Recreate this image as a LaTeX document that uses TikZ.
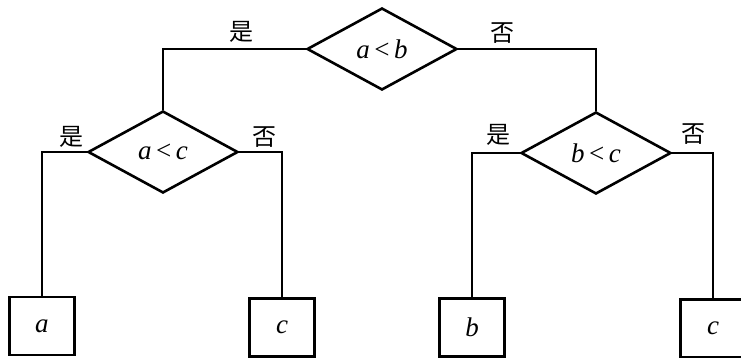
\documentclass[tikz,border=0pt]{standalone}
\usepackage{fontspec}
\setmainfont{Liberation Serif}
\newfontfamily\cjk{Noto Sans CJK SC}
\usetikzlibrary{shapes.geometric}
\tikzset{
  decision/.style={diamond, draw, line width=1.3pt, inner sep=0pt,
    minimum width=75pt, minimum height=41pt, font=\fontsize{13.5}{15}\selectfont},
  leaf/.style={rectangle, draw, line width=1.3pt, inner sep=0pt,
    minimum width=32.5pt, minimum height=29pt, font=\fontsize{13.5}{15}\selectfont},
  branch/.style={font=\cjk\fontsize{12}{13}\selectfont, inner sep=0pt},
  conn/.style={line width=1.3pt}
}
\begin{document}
\begin{tikzpicture}[x=0.5pt,y=-0.5pt]
\useasboundingbox (0,0) rectangle (741,358);
\node[decision] (d1) at (382,49) {\textit{a}\,<\,\textit{b}};
\node[decision] (d2) at (163,152) {\textit{a}\,<\,\textit{c}};
\node[decision] (d3) at (596,153) {\textit{b}\,<\,\textit{c}};
\node[leaf] (la) at (42,326) {\textit{a}};
\node[leaf] (lc1) at (282,327.5) {\textit{c}};
\node[leaf] (lb) at (472,327.5) {\textit{b}};
\node[leaf] (lc2) at (713,328.5) {\textit{c}};
\draw[conn] (d1.west) -| (d2.north);
\draw[conn] (d1.east) -| (d3.north);
\draw[conn] (d2.west) -| (la.north);
\draw[conn] (d2.east) -| (lc1.north);
\draw[conn] (d3.west) -| (lb.north);
\draw[conn] (d3.east) -| (lc2.north);
\node[branch] (y1) at (241,32) {是};
\node[branch] (n1) at (502,33) {否};
\node[branch] (y2) at (72,137) {是};
\node[branch] (n2) at (264,137) {否};
\node[branch] (y3) at (499,135) {是};
\node[branch] (n3) at (693,134) {否};
\end{tikzpicture}
\end{document}
